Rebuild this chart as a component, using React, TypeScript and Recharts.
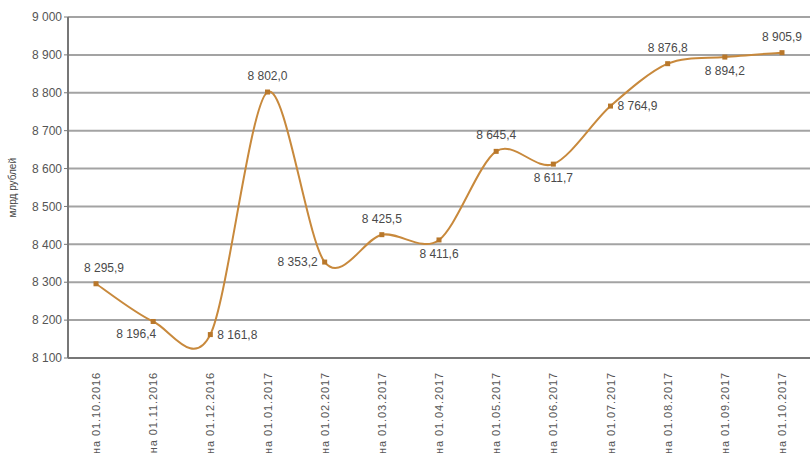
import { LineChart, Line, XAxis, YAxis, CartesianGrid, LabelList } from "recharts";

const dates = [
  "01.10.2016",
  "01.11.2016",
  "01.12.2016",
  "01.01.2017",
  "01.02.2017",
  "01.03.2017",
  "01.04.2017",
  "01.05.2017",
  "01.06.2017",
  "01.07.2017",
  "01.08.2017",
  "01.09.2017",
  "01.10.2017",
];

const values = [
  8295.9, 8196.4, 8161.8, 8802.0, 8353.2, 8425.5, 8411.6, 8645.4, 8611.7, 8764.9, 8876.8, 8894.2,
  8905.9,
];

const yTicks = [8100, 8200, 8300, 8400, 8500, 8600, 8700, 8800, 8900, 9000];

// where each value label sits relative to its point
const labelPlace = [
  "top", "bottomLeft", "right", "top", "left", "top", "bottom", "top", "bottom", "right", "top",
  "bottom", "top",
];

const data = dates.map((d, i) => ({ date: "на " + d, value: values[i] }));

const LINE = "#c8893c";
const MARK = "#b8772a";
const FONT = "Liberation Sans, Arial, sans-serif";

function fmtThousands(v: number): string {
  const s = String(Math.round(v));
  return s.replace(/\B(?=(\d{3})+(?!\d))/g, " ");
}

function fmtValue(v: number): string {
  const [int, dec] = v.toFixed(1).split(".");
  return fmtThousands(Number(int)) + "," + dec;
}

// Excel-like smoothed line (Catmull-Rom to bezier)
function smoothCurve(context: any) {
  let pts: number[][] = [];
  const k = 1 / 6.5;
  return {
    areaStart() {},
    areaEnd() {},
    lineStart() {
      pts = [];
    },
    point(x: number, y: number) {
      pts.push([+x, +y]);
    },
    lineEnd() {
      const n = pts.length;
      if (!n) return;
      context.moveTo(pts[0][0], pts[0][1]);
      for (let i = 0; i < n - 1; i++) {
        const p0 = pts[Math.max(i - 1, 0)];
        const p1 = pts[i];
        const p2 = pts[i + 1];
        const p3 = pts[Math.min(i + 2, n - 1)];
        context.bezierCurveTo(
          p1[0] + (p2[0] - p0[0]) * k,
          p1[1] + (p2[1] - p0[1]) * k,
          p2[0] - (p3[0] - p1[0]) * k,
          p2[1] - (p3[1] - p1[1]) * k,
          p2[0],
          p2[1]
        );
      }
    },
  };
}

function SquareDot(props: any) {
  const { cx, cy } = props;
  if (cx == null || cy == null) return null;
  return <rect x={cx - 2.5} y={cy - 2.5} width={5} height={5} fill={MARK} />;
}

function ValueLabel(props: any) {
  const { x, y, value, index } = props;
  const place = labelPlace[index];
  let dx = 0;
  let dy = 0;
  let anchor: "start" | "middle" | "end" = "middle";
  if (place === "top") dy = -12;
  else if (place === "bottom") dy = 18;
  else if (place === "bottomLeft") {
    dx = -17;
    dy = 17;
  } else if (place === "right") {
    dx = 7;
    dy = 4;
    anchor = "start";
  } else if (place === "left") {
    dx = -7;
    dy = 4;
    anchor = "end";
  }
  if (index === 0) dx = 8;
  return (
    <text x={x + dx} y={y + dy} textAnchor={anchor} fontSize={12} fill="#4a4a4a" fontFamily={FONT}>
      {fmtValue(value)}
    </text>
  );
}

function DateTick(props: any) {
  const { x, y, payload } = props;
  return (
    <text
      x={0}
      y={0}
      transform={`translate(${x + 4},${y + 6}) rotate(-90)`}
      textAnchor="end"
      fontSize={11}
      letterSpacing={0.9}
      fill="#555"
      fontFamily={FONT}
    >
      {payload.value}
    </text>
  );
}

export default function App() {
  return (
    <div style={{ width: 810, height: 453, background: "#fff" }}>
      <style>{`body{margin:0}`}</style>
      <LineChart
        width={810}
        height={453}
        data={data}
        margin={{ top: 17, right: 0, left: 0, bottom: 0 }}
      >
        <CartesianGrid vertical={false} stroke="#a3a3a3" strokeWidth={2} />
        <XAxis
          dataKey="date"
          height={95}
          interval={0}
          padding={{ left: 28, right: 28 }}
          tick={<DateTick />}
          tickLine={false}
          axisLine={{ stroke: "#777", strokeWidth: 2 }}
        />
        <YAxis
          domain={[8100, 9000]}
          ticks={yTicks}
          width={68}
          tickFormatter={fmtThousands}
          tick={{ fontSize: 12, fill: "#555", fontFamily: FONT }}
          tickLine={{ stroke: "#777" }}
          tickSize={4}
          axisLine={{ stroke: "#777", strokeWidth: 2 }}
          label={{
            value: "млрд рублей",
            angle: -90,
            position: "insideLeft",
            offset: 12,
            dy: 30,
            style: { fontSize: 10, fill: "#444", fontFamily: FONT },
          }}
        />
        <Line
          dataKey="value"
          type={smoothCurve as any}
          stroke={LINE}
          strokeWidth={2}
          dot={<SquareDot />}
          activeDot={false}
          isAnimationActive={false}
        >
          <LabelList dataKey="value" content={<ValueLabel />} />
        </Line>
      </LineChart>
    </div>
  );
}
